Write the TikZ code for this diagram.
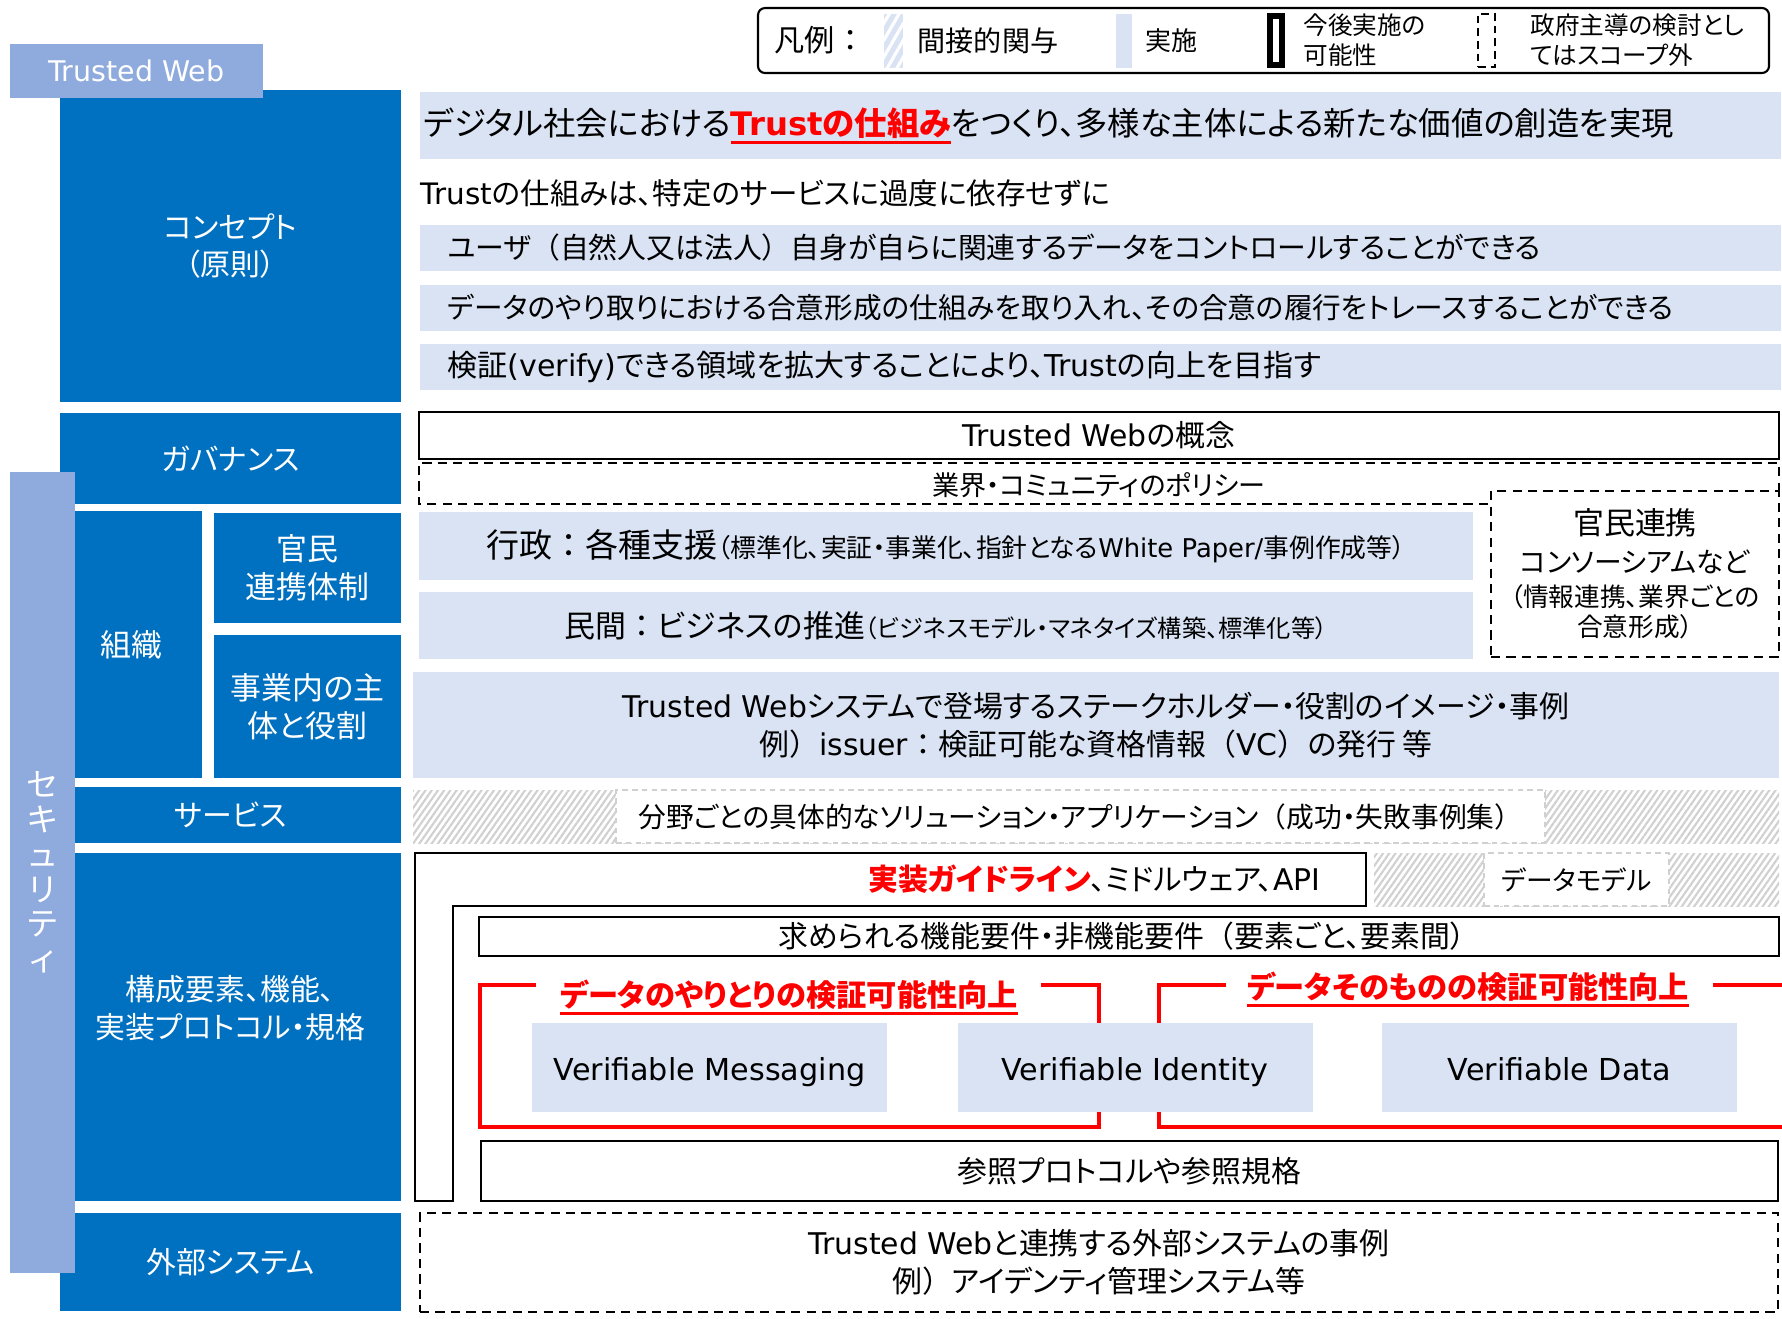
\documentclass[tikz,border=0pt]{standalone}
\usepackage{fontspec}
\setmainfont{Noto Sans CJK JP}[RawFeature=+palt]
\newfontfamily\enfont{DejaVu Sans}
\newfontfamily\fwfont{Noto Sans CJK JP}
\newcommand\lat[1]{{\enfont #1}}
\newcommand\fw[1]{{\fwfont #1}}
\newsavebox\ulbox
\newcommand\redul[1]{\sbox\ulbox{#1}\rlap{\rule[-2.4pt]{\wd\ulbox}{0.7pt}}\usebox\ulbox}
\usepackage{xcolor}
\usetikzlibrary{positioning,patterns.meta}
\definecolor{twblue}{RGB}{0,112,192}
\definecolor{twlight}{RGB}{218,227,243}
\definecolor{twmid}{RGB}{143,170,220}
\definecolor{twred}{RGB}{255,0,0}
\definecolor{twgrey}{RGB}{208,208,208}

\begin{document}
\begin{tikzpicture}[
    blk/.style={rectangle, fill=twblue, text=white, inner sep=0pt, align=center,
                font=\fontsize{8.5}{10.8}\selectfont},
    bigblk/.style={blk, font=\fontsize{8.8}{10.8}\selectfont},
    band/.style={rectangle, fill=twlight, inner sep=0pt, align=center,
                 font=\fontsize{8.5}{10.8}\selectfont},
    row/.style={band, anchor=west, align=left, inner xsep=0.28cm, text width=13.05cm,
                minimum height=0.46cm, font=\fontsize{8.2}{9}\selectfont},
    frame/.style={rectangle, draw, line width=0.8pt, inner sep=0pt, align=center,
                  font=\fontsize{8.5}{10.8}\selectfont},
    dashbox/.style={frame, line width=0.65pt, dash pattern=on 2.6pt off 1.8pt},
    hatchbox/.style={rectangle, inner sep=0pt, pattern color=twgrey,
                     pattern={Lines[angle=55,distance=1.45pt,line width=0.6pt]}},
    gapbox/.style={rectangle, fill=white, draw=twgrey, line width=0.5pt,
                   dash pattern=on 1.6pt off 1.2pt, inner sep=0pt,
                   font=\fontsize{8.5}{10}\selectfont},
    vbox/.style={band, minimum width=3.55cm, minimum height=0.89cm, text height=0.93em, text depth=0.2em,
                 font=\enfont\fontsize{8.6}{10}\selectfont},
    redline/.style={draw=twred, line width=1.15pt},
    redtitle/.style={inner sep=0pt, text=twred, font=\fontsize{8.6}{10}\selectfont\bfseries},
    lgtext/.style={inner sep=0pt, anchor=west, align=left, font=\fontsize{7}{8.5}\selectfont}
]
    \useasboundingbox (0,0) rectangle (17.82,-13.18);

    % left column
    \node[blk, minimum width=3.41cm, minimum height=3.12cm] (concept) at (2.305,-2.46) {コンセプト\\（原則）};
    \node[blk, minimum width=3.41cm, minimum height=0.91cm] (gov) at (2.305,-4.585) {ガバナンス};
    \node[bigblk, minimum width=1.42cm, minimum height=2.67cm] (org) at (1.31,-6.445) {組織};
    \node[bigblk, minimum width=1.87cm, minimum height=1.10cm] (pubpriv) at (3.075,-5.68) {官民\\連携体制};
    \node[bigblk, minimum width=1.87cm, minimum height=1.43cm] (roles) at (3.075,-7.065) {事業内の主\\体と役割};
    \node[blk, minimum width=3.41cm, minimum height=0.56cm] (svc) at (2.305,-8.15) {サービス};
    \node[blk, minimum width=3.41cm, minimum height=3.48cm] (comp) at (2.305,-10.27) {};
    \node[blk, fill=none] (complbl) at (2.305,-10.085) {構成要素、機能、\\実装プロトコル・規格};
    \node[blk, minimum width=3.41cm, minimum height=0.98cm] (ext) at (2.305,-12.62) {外部システム};
    \node[blk, fill=twmid, minimum width=2.53cm, minimum height=0.54cm,
          font=\enfont\fontsize{8.1}{9}\selectfont] (tw) at (1.365,-0.71) {Trusted Web};
    \node[blk, fill=twmid, minimum width=0.65cm, minimum height=8.01cm,
          font=\fontsize{9.2}{9.9}\selectfont] (sec) at (0.425,-8.725) {セ\\キ\\ュ\\リ\\テ\\ィ};

    % legend
    \node[draw, rounded corners=2pt, line width=0.6pt, minimum width=10.11cm, minimum height=0.65cm] (legend) at (12.635,-0.405) {};
    \node[inner sep=0pt, font=\fontsize{8.6}{10}\selectfont] (lgtitle) at (8.2,-0.40) {凡例\fw{：}};
    \node[inner sep=0pt, minimum width=0.19cm, minimum height=0.54cm, preaction={fill=twlight},
          pattern color=white, pattern={Lines[angle=60,distance=2.4pt,line width=0.9pt]}] (lghatch) at (8.935,-0.41) {};
    \node[inner sep=0pt, font=\fontsize{8}{10}\selectfont] (lgind) at (9.88,-0.41) {間接的関与};
    \node[inner sep=0pt, fill=twlight, minimum width=0.16cm, minimum height=0.54cm] (lgimpl) at (11.24,-0.41) {};
    \node[inner sep=0pt, font=\fontsize{7.4}{10}\selectfont] (lgimpltxt) at (11.71,-0.41) {実施};
    \node[draw, inner sep=0pt, line width=1.6pt, minimum width=0.12cm, minimum height=0.49cm] (lgfut) at (12.76,-0.405) {};
    \node[lgtext] (lgfuttxt) at (13.03,-0.40) {今後実施の\\可能性};
    \node[draw, inner sep=0pt, line width=0.55pt, dash pattern=on 2.2pt off 1.4pt,
          minimum width=0.17cm, minimum height=0.53cm] (lgout) at (14.865,-0.405) {};
    \node[lgtext] (lgouttxt) at (15.30,-0.40) {政府主導の検討とし\\てはスコープ外};

    % concept rows
    \node[band, anchor=west, align=left, text width=13.53cm, inner xsep=0.04cm, minimum height=0.67cm,
          font=\fontsize{9.2}{10}\selectfont] (goal) at (4.19,-1.255)
          {デジタル社会における{\color{twred}\bfseries\redul{\lat{Trust}の仕組み}}をつくり、多様な主体による新たな価値の創造を実現};
    \node[anchor=west, inner sep=0pt, font=\fontsize{8.4}{9}\selectfont] (how) at (4.20,-1.93) {\lat{Trust}の仕組みは、特定のサービスに過度に依存せずに};
    \node[row] (p1) at (4.19,-2.475) {ユーザ\fw{（}自然人又は法人\fw{）}自身が自らに関連するデータをコントロールすることができる};
    \node[row, font=\fontsize{8.15}{9}\selectfont] (p2) at (4.19,-3.08) {データのやり取りにおける合意形成の仕組みを取り入れ、その合意の履行をトレースすることができる};
    \node[row, font=\fontsize{8.55}{9}\selectfont] (p3) at (4.19,-3.67) {検証\lat{(verify)}できる領域を拡大することにより、\lat{Trust}の向上を目指す};

    % governance
    \node[frame, minimum width=13.60cm, minimum height=0.47cm] (twconcept) at (10.99,-4.355) {\lat{Trusted Web}の概念};
    \draw[line width=0.65pt, dash pattern=on 2.6pt off 1.8pt]
        (14.88,-5.04) -- (4.19,-5.04) -- (4.19,-4.63) -- (17.79,-4.63) -- (17.79,-4.91);
    \node[inner sep=0pt, font=\fontsize{7.7}{10}\selectfont] (policy) at (10.99,-4.85) {業界・コミュニティのポリシー};
    \node[dashbox, minimum width=2.88cm, minimum height=1.66cm, font=\fontsize{8.8}{10.8}\selectfont] (consort) at (16.35,-5.74)
        {官民連携\\{\fontsize{7.9}{9}\selectfont コンソーシアムなど}\\[-1.2pt]{\fontsize{7.3}{8.6}\selectfont（情報連携、業界ごとの}\\[-2.2pt]{\fontsize{7.3}{8.6}\selectfont 合意形成）}};
    \node[band, minimum width=10.54cm, minimum height=0.68cm, font=\fontsize{9.4}{11}\selectfont] (admin) at (9.46,-5.46)
        {行政\fw{：}各種支援{\fontsize{7.35}{8}\selectfont（標準化、実証・事業化、指針となる\lat{White Paper/}事例作成等）}};
    \node[band, minimum width=10.54cm, minimum height=0.67cm, font=\fontsize{8.8}{11}\selectfont] (biz) at (9.46,-6.255)
        {民間\fw{：}ビジネスの推進{\fontsize{6.9}{8}\selectfont（ビジネスモデル・マネタイズ構築、標準化等）}};

    % organisation
    \node[band, minimum width=13.66cm, minimum height=1.06cm] (stake) at (10.96,-7.25)
        {\lat{Trusted Web}システムで登場するステークホルダー・役割のイメージ・事例\\例\fw{）}\lat{issuer}\fw{：}検証可能な資格情報\fw{（}\lat{VC}\fw{）}の発行\ 等};

    % service
    \node[hatchbox, minimum width=13.66cm, minimum height=0.53cm] (svcband) at (10.96,-8.165) {};
    \node[gapbox, minimum width=9.29cm, minimum height=0.53cm, font=\fontsize{7.9}{10}\selectfont] (svcapp) at (10.805,-8.165)
        {分野ごとの具体的なソリューション・アプリケーション\fw{（}成功・失敗事例集\fw{）}};

    % components
    \draw[line width=0.8pt] (4.15,-8.53) -- (13.66,-8.53) -- (13.66,-9.06) -- (4.53,-9.06)
        -- (4.53,-12.01) -- (4.15,-12.01) -- cycle;
    \node[anchor=east, inner sep=0pt, font=\fontsize{8.5}{10}\selectfont] (impl) at (13.21,-8.79)
        {{\color{twred}\bfseries 実装ガイドライン}、ミドルウェア、\lat{API}};
    \node[hatchbox, minimum width=4.05cm, minimum height=0.53cm] (dmband) at (15.765,-8.795) {};
    \node[gapbox, minimum width=1.85cm, minimum height=0.53cm, font=\fontsize{7.6}{10}\selectfont] (datamodel) at (15.765,-8.795) {データモデル};
    \node[frame, minimum width=13.00cm, minimum height=0.39cm] (req) at (11.29,-9.365) {求められる機能要件・非機能要件\fw{（}要素ごと、要素間\fw{）}};

    \draw[redline] (5.36,-9.85) -- (4.80,-9.85) -- (4.80,-11.27) -- (10.99,-11.27) -- (10.99,-9.85) -- (10.41,-9.85);
    \draw[redline] (12.26,-9.85) -- (11.59,-9.85) -- (11.59,-11.27) -- (17.82,-11.27);
    \draw[redline] (17.13,-9.85) -- (17.82,-9.85);
    \node[redtitle] (msgtitle) at (7.89,-9.97) {\redul{データのやりとりの検証可能性向上}};
    \node[redtitle] (datatitle) at (14.68,-9.89) {\redul{データそのものの検証可能性向上}};

    \node[vbox] (vmsg) at (7.095,-10.675) {Verifiable Messaging};
    \node[vbox] (vid) at (11.35,-10.675) {Verifiable Identity};
    \node[vbox] (vdata) at (15.595,-10.675) {Verifiable Data};

    \node[frame, minimum width=12.97cm, minimum height=0.60cm] (refstd) at (11.295,-11.71) {参照プロトコルや参照規格};

    % external systems
    \node[dashbox, minimum width=13.58cm, minimum height=0.99cm] (extsys) at (10.99,-12.625)
        {\lat{Trusted Web}と連携する外部システムの事例\\例\fw{）}アイデンティ管理システム等};
\end{tikzpicture}
\end{document}
